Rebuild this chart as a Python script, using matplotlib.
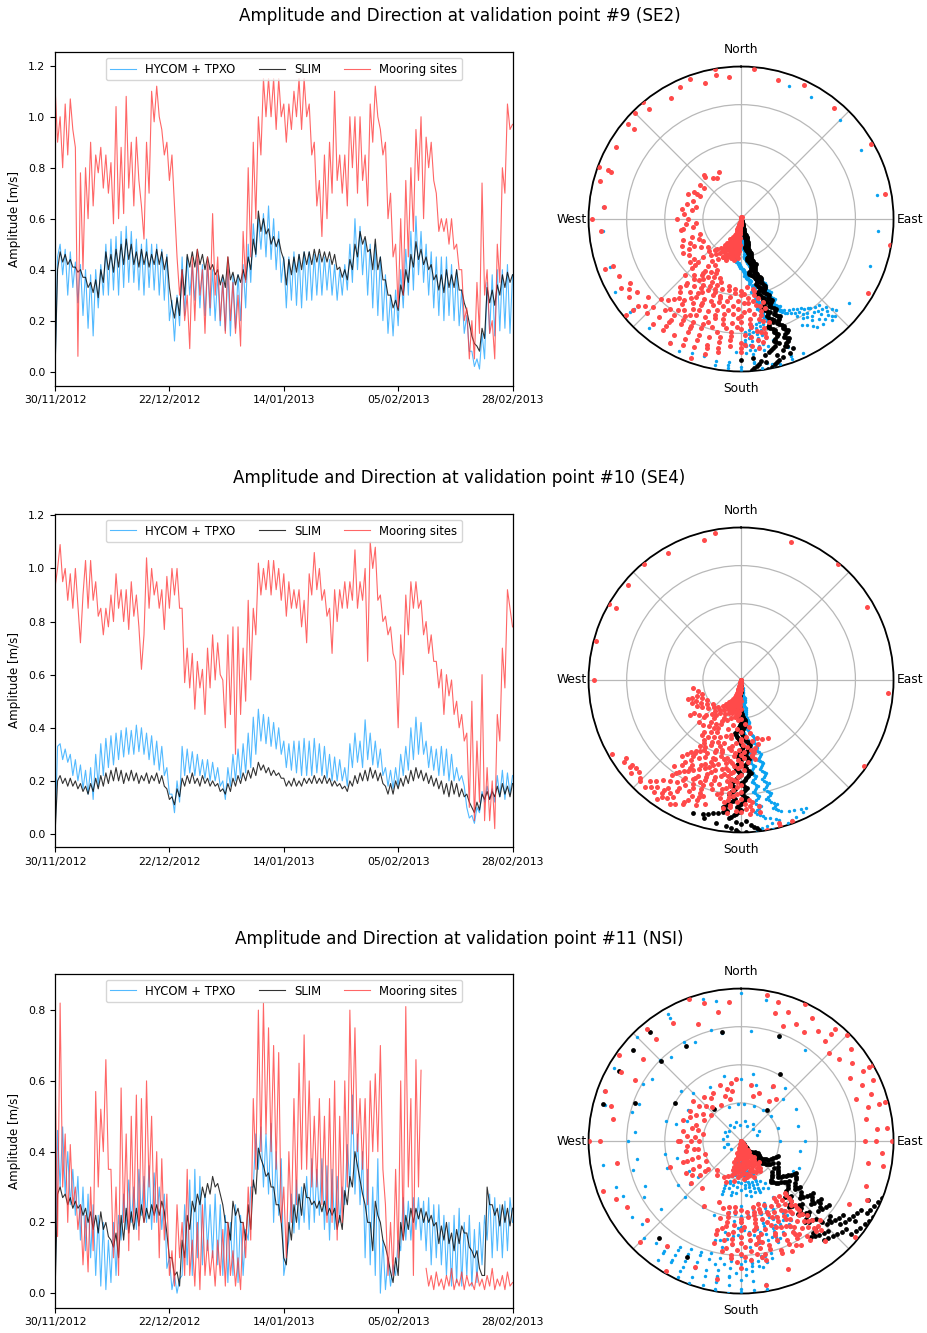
import numpy as np
import matplotlib
matplotlib.use("Agg")
import matplotlib.pyplot as plt
import matplotlib.dates as mdates
from datetime import datetime

# ---------------------------------------------------------------------------
# Record period and labels
# ---------------------------------------------------------------------------
START = datetime(2012, 11, 30)
END = datetime(2013, 2, 28)

SERIES_LABELS = ["HYCOM + TPXO", "SLIM", "Mooring sites"]
TITLES = [
    "Amplitude and Direction at validation point #9 (SE2)",
    "Amplitude and Direction at validation point #10 (SE4)",
    "Amplitude and Direction at validation point #11 (NSI)",
]
COMPASS_LABELS = ["North", "", "East", "", "South", "", "West", ""]
YTICKS = [
    [0.0, 0.2, 0.4, 0.6, 0.8, 1.0, 1.2],
    [0.0, 0.2, 0.4, 0.6, 0.8, 1.0, 1.2],
    [0.0, 0.2, 0.4, 0.6, 0.8],
]
YLIMS = [(-0.055, 1.253), (-0.049, 1.205), (-0.041, 0.902)]

# ---------------------------------------------------------------------------
# Current amplitude [m/s], two samples per day over the record
# ---------------------------------------------------------------------------
amp9_hycom = [
    0.00, 0.45, 0.50, 0.38, 0.48, 0.30, 0.47, 0.33, 0.43, 0.27, 0.42, 0.22, 0.40, 0.17, 0.38, 0.14, 0.40, 0.25, 0.42, 0.30,
    0.50, 0.30, 0.52, 0.32, 0.53, 0.30, 0.55, 0.33, 0.57, 0.35, 0.55, 0.35, 0.52, 0.32, 0.50, 0.30, 0.52, 0.33, 0.50, 0.32,
    0.50, 0.30, 0.48, 0.28, 0.46, 0.20, 0.28, 0.12, 0.30, 0.18, 0.45, 0.22, 0.45, 0.30, 0.42, 0.28, 0.44, 0.25, 0.42, 0.22,
    0.42, 0.22, 0.40, 0.20, 0.38, 0.18, 0.37, 0.16, 0.40, 0.14, 0.38, 0.17, 0.38, 0.20, 0.42, 0.25, 0.50, 0.35, 0.58, 0.45,
    0.60, 0.48, 0.62, 0.45, 0.65, 0.44, 0.60, 0.40, 0.55, 0.35, 0.45, 0.25, 0.45, 0.28, 0.47, 0.26, 0.46, 0.25, 0.47, 0.28,
    0.47, 0.28, 0.46, 0.30, 0.46, 0.30, 0.45, 0.32, 0.44, 0.30, 0.42, 0.28, 0.40, 0.30, 0.42, 0.32, 0.50, 0.35, 0.60, 0.40,
    0.57, 0.38, 0.52, 0.30, 0.50, 0.25, 0.50, 0.22, 0.45, 0.20, 0.38, 0.15, 0.30, 0.14, 0.32, 0.18, 0.40, 0.25, 0.48, 0.30,
    0.55, 0.32, 0.61, 0.38, 0.55, 0.35, 0.50, 0.30, 0.47, 0.25, 0.45, 0.22, 0.45, 0.20, 0.45, 0.22, 0.42, 0.20, 0.40, 0.18,
    0.32, 0.15, 0.22, 0.08, 0.08, 0.02, 0.05, 0.01, 0.15, 0.05, 0.35, 0.15, 0.38, 0.14, 0.40, 0.16, 0.40, 0.17, 0.42, 0.15,
    0.38,
]
amp9_slim = [
    0.00, 0.40, 0.47, 0.43, 0.46, 0.42, 0.44, 0.41, 0.41, 0.39, 0.40, 0.37, 0.37, 0.33, 0.35, 0.31, 0.36, 0.29, 0.40, 0.35,
    0.47, 0.40, 0.46, 0.39, 0.48, 0.41, 0.50, 0.42, 0.52, 0.44, 0.50, 0.42, 0.47, 0.41, 0.48, 0.42, 0.47, 0.41, 0.46, 0.42,
    0.48, 0.42, 0.47, 0.40, 0.45, 0.33, 0.26, 0.21, 0.29, 0.22, 0.40, 0.30, 0.46, 0.41, 0.47, 0.41, 0.48, 0.42, 0.46, 0.40,
    0.45, 0.40, 0.42, 0.38, 0.40, 0.34, 0.38, 0.33, 0.45, 0.36, 0.39, 0.34, 0.38, 0.35, 0.40, 0.36, 0.45, 0.40, 0.52, 0.46,
    0.63, 0.55, 0.60, 0.54, 0.56, 0.50, 0.53, 0.49, 0.52, 0.47, 0.44, 0.34, 0.44, 0.38, 0.45, 0.39, 0.46, 0.40, 0.47, 0.42,
    0.47, 0.42, 0.48, 0.43, 0.48, 0.43, 0.47, 0.43, 0.47, 0.42, 0.46, 0.40, 0.41, 0.37, 0.40, 0.36, 0.44, 0.40, 0.50, 0.45,
    0.55, 0.50, 0.53, 0.47, 0.48, 0.40, 0.52, 0.40, 0.45, 0.36, 0.36, 0.30, 0.30, 0.25, 0.28, 0.24, 0.34, 0.30, 0.40, 0.35,
    0.46, 0.41, 0.51, 0.44, 0.48, 0.42, 0.45, 0.40, 0.42, 0.36, 0.38, 0.32, 0.38, 0.31, 0.40, 0.33, 0.38, 0.33, 0.40, 0.32,
    0.32, 0.27, 0.24, 0.19, 0.14, 0.11, 0.10, 0.08, 0.17, 0.13, 0.33, 0.27, 0.32, 0.26, 0.34, 0.30, 0.38, 0.33, 0.39, 0.35,
    0.38,
]
amp9_mooring = [
    1.12, 0.90, 1.00, 0.80, 1.05, 0.85, 1.07, 0.95, 0.88, 0.06, 0.78, 0.40, 0.80, 0.60, 0.90, 0.65, 0.85, 0.78, 0.88, 0.72,
    0.85, 0.70, 0.82, 0.58, 1.04, 0.60, 0.88, 0.62, 1.08, 0.72, 0.90, 0.65, 0.92, 0.75, 0.65, 0.52, 0.90, 0.70, 1.10, 0.98,
    1.12, 1.00, 0.95, 0.85, 0.90, 0.75, 0.85, 0.65, 0.45, 0.30, 0.40, 0.20, 0.30, 0.09, 0.45, 0.20, 0.48, 0.30, 0.40, 0.15,
    0.45, 0.25, 0.62, 0.30, 0.45, 0.20, 0.35, 0.15, 0.45, 0.20, 0.35, 0.15, 0.30, 0.10, 0.55, 0.35, 0.80, 0.45, 0.90, 0.60,
    1.00, 0.85, 1.15, 1.00, 1.15, 1.00, 1.15, 0.95, 1.15, 1.00, 1.05, 0.90, 1.05, 0.95, 1.10, 1.00, 1.15, 0.95, 1.15, 1.00,
    1.05, 0.85, 0.90, 0.65, 0.75, 0.53, 0.85, 0.60, 0.90, 0.70, 1.10, 0.75, 0.85, 0.70, 0.85, 0.65, 1.00, 0.80, 1.00, 0.70,
    1.00, 0.75, 0.85, 0.65, 1.05, 0.90, 1.12, 1.00, 0.95, 0.85, 0.90, 0.60, 0.70, 0.45, 0.50, 0.25, 0.60, 0.30, 0.75, 0.45,
    0.80, 0.55, 0.95, 0.75, 1.00, 0.60, 0.92, 0.80, 0.90, 0.75, 0.70, 0.55, 0.60, 0.55, 0.60, 0.50, 0.60, 0.48, 0.50, 0.40,
    0.40, 0.20, 0.25, 0.05, 0.20, 0.05, 0.35, 0.15, 0.74, 0.30, 0.40, 0.15, 0.20, 0.05, 0.50, 0.35, 0.80, 0.70, 1.05, 0.95,
    0.97,
]

amp10_hycom = [
    0.00, 0.33, 0.34, 0.28, 0.32, 0.27, 0.30, 0.22, 0.28, 0.20, 0.26, 0.17, 0.24, 0.15, 0.25, 0.13, 0.30, 0.18, 0.34, 0.22,
    0.36, 0.25, 0.37, 0.26, 0.38, 0.28, 0.39, 0.29, 0.40, 0.30, 0.39, 0.30, 0.41, 0.31, 0.40, 0.30, 0.38, 0.28, 0.37, 0.26,
    0.35, 0.24, 0.33, 0.22, 0.25, 0.15, 0.15, 0.08, 0.20, 0.12, 0.33, 0.22, 0.32, 0.23, 0.31, 0.22, 0.30, 0.22, 0.28, 0.21,
    0.28, 0.20, 0.27, 0.20, 0.25, 0.18, 0.20, 0.13, 0.25, 0.18, 0.30, 0.20, 0.32, 0.21, 0.34, 0.23, 0.38, 0.25, 0.44, 0.30,
    0.47, 0.35, 0.45, 0.34, 0.44, 0.33, 0.42, 0.32, 0.40, 0.30, 0.35, 0.25, 0.34, 0.24, 0.35, 0.23, 0.35, 0.22, 0.36, 0.22,
    0.35, 0.22, 0.36, 0.23, 0.34, 0.22, 0.33, 0.21, 0.30, 0.20, 0.29, 0.20, 0.28, 0.20, 0.25, 0.18, 0.34, 0.25, 0.38, 0.27,
    0.35, 0.25, 0.43, 0.28, 0.38, 0.26, 0.35, 0.25, 0.32, 0.22, 0.25, 0.18, 0.24, 0.17, 0.25, 0.18, 0.30, 0.22, 0.33, 0.24,
    0.40, 0.28, 0.44, 0.30, 0.42, 0.30, 0.35, 0.25, 0.33, 0.24, 0.32, 0.22, 0.33, 0.22, 0.32, 0.20, 0.30, 0.20, 0.25, 0.20,
    0.22, 0.18, 0.10, 0.06, 0.07, 0.04, 0.10, 0.08, 0.16, 0.12, 0.18, 0.13, 0.17, 0.12, 0.22, 0.14, 0.24, 0.13, 0.23, 0.15,
    0.22,
]
amp10_slim = [
    0.00, 0.20, 0.22, 0.19, 0.21, 0.18, 0.21, 0.18, 0.20, 0.17, 0.19, 0.16, 0.18, 0.15, 0.19, 0.16, 0.21, 0.17, 0.22, 0.18,
    0.23, 0.19, 0.24, 0.20, 0.25, 0.20, 0.24, 0.19, 0.23, 0.20, 0.24, 0.20, 0.23, 0.19, 0.22, 0.20, 0.23, 0.19, 0.22, 0.20,
    0.23, 0.19, 0.22, 0.18, 0.17, 0.13, 0.14, 0.11, 0.17, 0.14, 0.21, 0.18, 0.22, 0.19, 0.23, 0.19, 0.21, 0.18, 0.22, 0.19,
    0.21, 0.18, 0.20, 0.18, 0.19, 0.16, 0.17, 0.15, 0.19, 0.16, 0.21, 0.18, 0.22, 0.19, 0.23, 0.20, 0.24, 0.21, 0.25, 0.22,
    0.27, 0.24, 0.26, 0.23, 0.25, 0.22, 0.24, 0.22, 0.23, 0.21, 0.21, 0.18, 0.20, 0.18, 0.21, 0.18, 0.20, 0.18, 0.21, 0.19,
    0.21, 0.19, 0.22, 0.19, 0.21, 0.19, 0.22, 0.19, 0.21, 0.18, 0.20, 0.18, 0.19, 0.17, 0.18, 0.16, 0.20, 0.18, 0.22, 0.19,
    0.23, 0.20, 0.24, 0.20, 0.25, 0.21, 0.24, 0.20, 0.23, 0.19, 0.18, 0.15, 0.19, 0.15, 0.20, 0.17, 0.21, 0.18, 0.22, 0.19,
    0.24, 0.20, 0.25, 0.21, 0.24, 0.20, 0.23, 0.19, 0.22, 0.18, 0.21, 0.17, 0.20, 0.15, 0.19, 0.14, 0.20, 0.15, 0.19, 0.14,
    0.17, 0.14, 0.15, 0.12, 0.10, 0.08, 0.12, 0.09, 0.15, 0.13, 0.16, 0.13, 0.16, 0.14, 0.18, 0.14, 0.19, 0.15, 0.18, 0.14,
    0.19,
]
amp10_mooring = [
    0.93, 1.00, 1.09, 0.95, 1.00, 0.88, 0.98, 0.85, 1.00, 0.86, 0.72, 0.90, 1.03, 0.85, 1.03, 0.88, 0.95, 0.82, 0.85, 0.75,
    0.85, 0.78, 0.90, 0.80, 0.98, 0.85, 0.92, 0.80, 0.92, 0.77, 0.95, 0.82, 0.90, 0.78, 0.62, 0.75, 1.04, 0.85, 1.00, 0.90,
    0.95, 0.85, 0.92, 0.77, 0.97, 0.85, 1.00, 0.90, 1.00, 0.85, 0.85, 0.57, 0.70, 0.55, 0.68, 0.47, 0.65, 0.55, 0.62, 0.45,
    0.70, 0.55, 0.75, 0.58, 0.72, 0.60, 0.58, 0.40, 0.75, 0.45, 0.78, 0.30, 0.78, 0.45, 0.70, 0.50, 0.88, 0.58, 0.85, 0.75,
    1.02, 0.90, 1.00, 0.92, 1.03, 0.90, 1.03, 0.92, 1.00, 0.88, 0.98, 0.82, 0.95, 0.85, 0.92, 0.85, 0.92, 0.78, 0.88, 0.72,
    0.98, 0.90, 1.06, 0.92, 1.00, 0.88, 0.92, 0.82, 0.85, 0.68, 0.92, 0.80, 0.92, 0.85, 0.95, 0.85, 0.95, 0.88, 1.07, 0.85,
    0.95, 0.88, 1.00, 0.65, 1.10, 1.00, 1.08, 0.88, 0.90, 0.80, 0.82, 0.75, 0.78, 0.68, 0.65, 0.40, 0.75, 0.60, 0.90, 0.75,
    0.95, 0.85, 0.95, 0.85, 0.88, 0.75, 0.80, 0.68, 0.75, 0.65, 0.65, 0.55, 0.62, 0.45, 0.60, 0.52, 0.58, 0.45, 0.50, 0.40,
    0.45, 0.35, 0.38, 0.10, 0.50, 0.05, 0.35, 0.12, 0.60, 0.05, 0.25, 0.05, 0.20, 0.02, 0.45, 0.35, 0.70, 0.55, 0.92, 0.85,
    0.78,
]

amp11_hycom = [
    0.00, 0.46, 0.30, 0.47, 0.28, 0.40, 0.25, 0.35, 0.22, 0.33, 0.15, 0.30, 0.12, 0.28, 0.10, 0.25, 0.05, 0.22, 0.02, 0.20,
    0.01, 0.15, 0.03, 0.20, 0.05, 0.22, 0.15, 0.28, 0.18, 0.32, 0.20, 0.30, 0.18, 0.35, 0.22, 0.33, 0.20, 0.36, 0.18, 0.34,
    0.20, 0.30, 0.18, 0.28, 0.07, 0.10, 0.01, 0.05, 0.00, 0.04, 0.05, 0.25, 0.08, 0.32, 0.05, 0.35, 0.10, 0.33, 0.08, 0.28,
    0.12, 0.25, 0.10, 0.28, 0.08, 0.25, 0.05, 0.22, 0.03, 0.20, 0.05, 0.25, 0.03, 0.22, 0.05, 0.18, 0.15, 0.30, 0.30, 0.45,
    0.35, 0.47, 0.30, 0.45, 0.28, 0.48, 0.20, 0.40, 0.22, 0.38, 0.05, 0.10, 0.15, 0.28, 0.17, 0.32, 0.18, 0.30, 0.20, 0.33,
    0.18, 0.38, 0.20, 0.35, 0.22, 0.38, 0.18, 0.36, 0.15, 0.35, 0.18, 0.33, 0.20, 0.30, 0.25, 0.42, 0.30, 0.56, 0.28, 0.45,
    0.25, 0.40, 0.10, 0.35, 0.08, 0.30, 0.05, 0.38, 0.00, 0.15, 0.01, 0.10, 0.02, 0.08, 0.05, 0.15, 0.12, 0.27, 0.15, 0.26,
    0.15, 0.27, 0.18, 0.27, 0.15, 0.26, 0.12, 0.27, 0.08, 0.25, 0.10, 0.25, 0.08, 0.22, 0.05, 0.20, 0.02, 0.22, 0.03, 0.24,
    0.02, 0.20, 0.05, 0.22, 0.02, 0.18, 0.03, 0.20, 0.08, 0.22, 0.15, 0.28, 0.10, 0.27, 0.12, 0.25, 0.10, 0.26, 0.12, 0.27,
    0.20,
]
amp11_slim = [
    0.00, 0.28, 0.30, 0.27, 0.28, 0.25, 0.27, 0.24, 0.26, 0.24, 0.25, 0.22, 0.24, 0.20, 0.23, 0.18, 0.22, 0.17, 0.23, 0.18,
    0.20, 0.16, 0.15, 0.13, 0.17, 0.10, 0.22, 0.15, 0.24, 0.17, 0.23, 0.18, 0.24, 0.19, 0.25, 0.20, 0.24, 0.21, 0.25, 0.22,
    0.25, 0.22, 0.26, 0.23, 0.17, 0.10, 0.10, 0.05, 0.06, 0.02, 0.15, 0.10, 0.22, 0.18, 0.26, 0.23, 0.28, 0.25, 0.30, 0.27,
    0.31, 0.28, 0.33, 0.30, 0.31, 0.28, 0.25, 0.20, 0.20, 0.15, 0.26, 0.22, 0.24, 0.20, 0.20, 0.15, 0.25, 0.18, 0.32, 0.28,
    0.41, 0.38, 0.36, 0.33, 0.34, 0.30, 0.30, 0.25, 0.25, 0.20, 0.10, 0.08, 0.20, 0.15, 0.25, 0.20, 0.28, 0.22, 0.31, 0.27,
    0.27, 0.25, 0.26, 0.24, 0.26, 0.23, 0.26, 0.22, 0.24, 0.22, 0.24, 0.18, 0.22, 0.18, 0.29, 0.25, 0.33, 0.30, 0.40, 0.36,
    0.32, 0.28, 0.25, 0.20, 0.20, 0.12, 0.26, 0.22, 0.20, 0.15, 0.13, 0.10, 0.06, 0.03, 0.10, 0.05, 0.20, 0.15, 0.22, 0.18,
    0.24, 0.20, 0.24, 0.21, 0.24, 0.20, 0.23, 0.20, 0.22, 0.19, 0.20, 0.14, 0.19, 0.15, 0.20, 0.14, 0.17, 0.12, 0.18, 0.14,
    0.19, 0.17, 0.17, 0.13, 0.12, 0.10, 0.12, 0.07, 0.05, 0.05, 0.30, 0.25, 0.25, 0.22, 0.24, 0.19, 0.25, 0.20, 0.24, 0.19,
    0.24,
]
amp11_mooring = [
    0.64, 0.16, 0.82, 0.30, 0.45, 0.20, 0.42, 0.25, 0.30, 0.18, 0.25, 0.08, 0.22, 0.06, 0.30, 0.12, 0.57, 0.30, 0.52, 0.40,
    0.66, 0.35, 0.35, 0.10, 0.30, 0.05, 0.58, 0.20, 0.45, 0.12, 0.50, 0.20, 0.56, 0.15, 0.55, 0.20, 0.60, 0.30, 0.50, 0.20,
    0.40, 0.10, 0.38, 0.15, 0.28, 0.05, 0.12, 0.02, 0.25, 0.10, 0.20, 0.05, 0.35, 0.05, 0.15, 0.02, 0.20, 0.01, 0.25, 0.05,
    0.15, 0.05, 0.12, 0.02, 0.15, 0.05, 0.18, 0.02, 0.20, 0.05, 0.12, 0.02, 0.10, 0.01, 0.20, 0.10, 0.30, 0.15, 0.55, 0.35,
    0.80, 0.40, 0.82, 0.45, 0.75, 0.40, 0.70, 0.35, 0.68, 0.20, 0.30, 0.10, 0.40, 0.20, 0.55, 0.25, 0.65, 0.35, 0.73, 0.35,
    0.60, 0.30, 0.50, 0.30, 0.55, 0.25, 0.50, 0.20, 0.55, 0.20, 0.60, 0.15, 0.50, 0.20, 0.60, 0.30, 0.80, 0.45, 0.75, 0.40,
    0.55, 0.35, 0.55, 0.25, 0.60, 0.40, 0.62, 0.40, 0.70, 0.35, 0.25, 0.05, 0.20, 0.05, 0.35, 0.10, 0.60, 0.15, 0.81, 0.30,
    0.55, 0.05, 0.66, 0.30, 0.63, np.nan, 0.07, 0.02, 0.05, 0.01, 0.06, 0.02, 0.04, 0.01, 0.05, 0.02, 0.07, 0.01, 0.04, 0.02,
    0.06, 0.01, 0.05, 0.02, 0.03, 0.01, 0.06, 0.02, 0.04, 0.01, 0.05, 0.02, 0.07, 0.01, 0.04, 0.02, 0.05, 0.01, 0.06, 0.02,
    0.03,
]

# ---------------------------------------------------------------------------
# Current direction [degrees clockwise from North]
# SLIM and HYCOM #10: two samples per day; the others: four samples per day
# ---------------------------------------------------------------------------
dir9_hycom = [
    160, 165, 158, 168, 162, 166, 160, 170, 163, 168, 161, 171, 164, 169, 162, 172, 165, 170, 163, 173,
    166, 171, 164, 174, 167, 172, 165, 175, 168, 174, 166, 176, 170, 176, 168, 178, 171, 178, 169, 180,
    172, 180, 170, 182, 173, 182, 171, 184, 174, 184, 172, 186, 175, 186, 173, 188, 176, 188, 174, 190,
    175, 188, 173, 190, 176, 189, 174, 191, 177, 190, 175, 192, 176, 189, 174, 190, 175, 188, 173, 189,
    174, 187, 172, 188, 175, 188, 173, 189, 176, 190, 174, 191, 175, 188, 173, 189, 174, 186, 172, 187,
    173, 185, 171, 186, 172, 183, 170, 184, 171, 181, 169, 182, 170, 180, 168, 181, 169, 178, 167, 179,
    168, 177, 166, 178, 167, 176, 165, 177, 166, 175, 164, 176, 167, 176, 165, 177, 166, 174, 164, 175,
    165, 173, 163, 174, 164, 172, 162, 173, 163, 171, 161, 172, 164, 172, 162, 173, 163, 170, 161, 171,
    162, 169, 160, 170, 161, 168, 159, 169, 162, 170, 160, 171, 163, 171, 161, 172, 162, 169, 160, 170,
    161, 168, 159, 169, 160, 167, 158, 168, 161, 169, 159, 170, 162, 170, 160, 171, 161, 168, 159, 169,
    160, 168, 158, 169, 159, 167, 157, 168, 160, 168, 158, 170, 161, 169, 159, 170, 160, 168, 158, 169,
    159, 167, 157, 168, 158, 166, 156, 167, 159, 168, 157, 169, 158, 167, 156, 168, 157, 166, 155, 167,
    156, 166, 152, 168, 155, 165, 150, 170, 154, 166, 148, 172, 152, 168, 146, 174, 150, 170, 145, 175,
    148, 172, 143, 176, 150, 170, 142, 178, 147, 174, 140, 176, 145, 172, 138, 178, 148, 175, 142, 170,
    146, 176, 140, 172, 144, 178, 138, 168, 150, 175, 136, 172, 145, 178, 140, 165, 148, 176, 137, 170,
    142, 178, 135, 172, 146, 180, 138, 168, 140, 176, 134, 174, 145, 182, 137, 170, 142, 178, 136, 175,
    138, 160, 128, 110, 95, 80, 265, 275, 60, 45, 250, 230, 30, 20, 210, 195, 200, 220, 185, 175,
    190, 230, 175, 160, 240, 205, 170, 185, 155, 180, 168, 190, 160, 175, 185, 165, 172, 180, 168, 176,
    172,
]
dir9_slim = [
    155, 162, 160, 165, 163, 168, 162, 166, 164, 169, 165, 170, 166, 171, 167, 172, 166, 170, 165, 169,
    164, 168, 163, 167, 162, 166, 163, 168, 164, 169, 165, 170, 166, 171, 167, 172, 166, 170, 165, 169,
    164, 169, 163, 168, 164, 170, 165, 171, 166, 172, 165, 170, 164, 169, 163, 168, 162, 167, 163, 168,
    164, 169, 165, 171, 166, 172, 165, 170, 164, 168, 163, 167, 162, 166, 161, 165, 162, 166, 163, 167,
    162, 166, 161, 165, 160, 164, 161, 165, 162, 167, 163, 168, 162, 166, 161, 165, 160, 164, 161, 165,
    160, 164, 159, 163, 160, 165, 161, 166, 162, 167, 161, 165, 160, 164, 159, 163, 160, 164, 161, 165,
    160, 164, 159, 163, 158, 162, 159, 163, 160, 165, 161, 166, 160, 165, 159, 164, 158, 163, 159, 164,
    158, 163, 157, 162, 158, 163, 159, 164, 160, 165, 159, 164, 158, 163, 159, 165, 160, 166, 161, 167,
    160, 168, 162, 170, 158, 175, 165, 180, 160, 172, 163, 170, 165, 173, 166, 174, 167, 175, 168, 176,
    170,
]
dir9_mooring = [
    20, 10, 30, 15, 5, 25, 190, 185, 192, 188, 195, 186, 190, 197, 184, 193, 188, 195, 191, 186,
    192, 198, 185, 190, 195, 188, 200, 186, 190, 196, 184, 199, 188, 193, 197, 185, 192, 189, 198, 194,
    186, 200, 192, 195, 183, 198, 205, 190, 188, 202, 194, 185, 197, 190, 208, 187, 193, 200, 185, 196,
    190, 205, 183, 198, 195, 210, 188, 200, 185, 203, 192, 212, 190, 198, 206, 184, 196, 210, 188, 202,
    192, 206, 185, 215, 198, 188, 210, 194, 186, 205, 200, 218, 192, 185, 212, 200, 195, 220, 190, 205,
    205, 230, 215, 250, 200, 240, 265, 225, 210, 285, 245, 300, 220, 330, 260, 310, 235, 325, 280, 300,
    215, 290, 250, 335, 210, 270, 310, 240, 225, 300, 265, 320, 205, 285, 245, 275, 215, 320, 260, 295,
    205, 240, 280, 225, 210, 260, 230, 250, 200, 235, 215, 270, 205, 245, 225, 215, 198, 230, 210, 240,
    190, 215, 175, 205, 225, 185, 200, 170, 212, 190, 180, 220, 195, 170, 205, 215, 185, 200, 178, 210,
    180, 218, 170, 200, 205, 188, 225, 175, 195, 210, 168, 200, 215, 182, 195, 172, 208, 190, 220, 178,
    175, 210, 195, 165, 220, 185, 200, 170, 205, 192, 215, 168, 182, 210, 198, 175, 222, 188, 165, 205,
    178, 212, 195, 168, 205, 185, 220, 172, 190, 210, 180, 200, 168, 215, 195, 182, 205, 175, 218, 190,
    170, 208, 195, 180, 215, 168, 200, 185, 220, 175, 205, 190, 165, 212, 182, 198, 208, 175, 222, 188,
    180, 215, 168, 200, 195, 210, 172, 225, 185, 205, 170, 218, 192, 178, 210, 200, 168, 215, 185, 205,
    175, 220, 190, 205, 168, 210, 185, 230, 195, 172, 215, 200, 180, 225, 170, 205, 190, 215, 178, 235,
    185, 220, 175, 240, 200, 180, 228, 195, 172, 215, 190, 238, 205, 180, 225, 195, 210, 245, 190, 230,
    215, 250, 200, 235, 275, 220, 290, 205, 240, 310, 195, 330, 265, 345, 230, 290, 355, 210, 320, 15,
    300, 40, 250, 335, 80, 285, 350, 120, 200, 310, 25, 270, 340, 60, 230, 315, 5, 290, 100, 350,
    320,
]

dir10_hycom = [
    168, 174, 169, 175, 170, 176, 171, 177, 170, 176, 169, 175, 170, 176, 171, 177, 172, 178, 171, 177,
    170, 176, 169, 175, 170, 176, 171, 177, 172, 178, 173, 179, 172, 178, 171, 177, 170, 176, 171, 177,
    172, 178, 173, 179, 172, 178, 171, 177, 170, 176, 169, 175, 170, 176, 171, 177, 172, 178, 173, 179,
    172, 178, 171, 177, 170, 176, 169, 175, 168, 174, 167, 173, 168, 174, 169, 175, 168, 174, 167, 173,
    166, 172, 167, 173, 168, 174, 167, 173, 166, 172, 165, 171, 166, 172, 167, 173, 168, 174, 167, 173,
    166, 172, 165, 171, 166, 172, 167, 173, 168, 174, 167, 173, 166, 172, 165, 171, 166, 172, 167, 173,
    168, 174, 167, 173, 166, 172, 165, 171, 166, 172, 167, 173, 168, 174, 167, 173, 166, 172, 165, 171,
    166, 172, 167, 173, 168, 174, 167, 173, 166, 172, 165, 171, 164, 172, 165, 173, 166, 174, 165, 173,
    164, 172, 163, 171, 160, 170, 158, 168, 155, 166, 153, 165, 155, 168, 158, 170, 160, 172, 162, 174,
    168,
]
dir10_slim = [
    170, 176, 172, 178, 174, 180, 176, 182, 178, 184, 180, 186, 181, 187, 182, 188, 183, 189, 184, 190,
    183, 189, 184, 190, 185, 191, 186, 192, 185, 191, 184, 190, 183, 189, 182, 188, 181, 187, 180, 186,
    179, 185, 178, 184, 177, 183, 176, 182, 175, 181, 174, 180, 175, 181, 176, 182, 177, 183, 178, 184,
    179, 185, 180, 186, 179, 185, 178, 184, 177, 183, 176, 182, 175, 181, 174, 180, 173, 179, 172, 178,
    173, 179, 174, 180, 175, 181, 176, 182, 177, 183, 176, 182, 175, 181, 174, 180, 175, 181, 176, 182,
    177, 183, 178, 184, 177, 183, 176, 182, 175, 181, 174, 180, 175, 181, 176, 182, 177, 183, 178, 184,
    179, 185, 180, 186, 179, 185, 178, 184, 177, 183, 178, 184, 179, 185, 180, 186, 179, 185, 178, 184,
    177, 183, 178, 184, 179, 185, 180, 186, 181, 187, 182, 188, 181, 187, 180, 186, 181, 188, 182, 190,
    183, 192, 184, 194, 185, 196, 178, 200, 182, 195, 180, 190, 176, 186, 175, 184, 174, 182, 173, 181,
    178,
]
dir10_mooring = [
    185, 192, 188, 195, 183, 190, 194, 187, 189, 196, 185, 191, 193, 186, 197, 190, 184, 192, 188, 195,
    190, 186, 196, 183, 192, 188, 198, 185, 191, 194, 187, 197, 183, 190, 195, 188, 192, 186, 199, 190,
    188, 196, 183, 201, 190, 185, 199, 193, 186, 204, 181, 195, 198, 188, 206, 184, 192, 200, 186, 209,
    183, 197, 205, 190, 200, 186, 212, 194, 181, 203, 196, 188, 207, 185, 199, 214, 190, 202, 184, 198,
    196, 210, 185, 220, 200, 188, 215, 230, 190, 205, 225, 180, 212, 240, 195, 220, 185, 235, 205, 250,
    200, 245, 215, 230, 175, 255, 220, 205, 240, 190, 250, 215, 170, 235, 205, 260, 225, 185, 245, 210,
    195, 240, 215, 250, 180, 225, 205, 245, 170, 230, 210, 190, 215, 250, 175, 205, 235, 195, 220, 180,
    190, 225, 165, 210, 200, 180, 235, 170, 160, 205, 185, 215, 155, 195, 178, 210, 165, 200, 188, 215,
    175, 205, 190, 168, 198, 182, 212, 172, 188, 205, 178, 195, 170, 210, 185, 200, 180, 195, 172, 208,
    185, 200, 172, 212, 178, 195, 190, 208, 182, 170, 205, 192, 188, 210, 175, 200, 180, 198, 186, 212,
    190, 205, 180, 212, 185, 200, 195, 215, 182, 208, 190, 198, 178, 212, 188, 203, 192, 216, 185, 200,
    186, 205, 196, 212, 180, 202, 190, 218, 188, 198, 182, 210, 192, 205, 186, 214, 184, 200, 195, 210,
    188, 208, 182, 200, 195, 215, 186, 204, 180, 210, 192, 200, 186, 212, 182, 205, 196, 218, 188, 202,
    184, 206, 190, 214, 180, 200, 195, 210, 186, 215, 182, 205, 190, 210, 184, 200, 192, 216, 186, 204,
    180, 208, 190, 200, 176, 212, 186, 198, 182, 205, 175, 215, 188, 200, 178, 210, 185, 203, 176, 218,
    172, 200, 185, 210, 178, 196, 188, 214, 175, 204, 182, 220, 180, 200, 172, 212, 186, 215, 176, 205,
    210, 222, 218, 230, 205, 228, 215, 232, 212, 236, 220, 208, 226, 214, 232, 218, 225, 210, 235, 222,
    230, 300, 345, 60, 215, 330, 20, 270, 95, 310, 165, 240, 350, 125, 285, 160, 40, 165, 320, 170,
    300,
]

dir11_hycom = [
    165, 150, 175, 160, 170, 155, 180, 162, 172, 158, 185, 165, 168, 150, 178, 160, 175, 155, 182, 165,
    170, 158, 185, 162, 175, 160, 190, 168, 180, 200, 230, 255, 175, 165, 260, 290, 310, 335, 355, 20,
    45, 70, 250, 275, 300, 325, 345, 10, 35, 60, 180, 165, 175, 190, 160, 185, 170, 195, 165, 180,
    160, 185, 170, 195, 165, 180, 155, 190, 170, 185, 160, 195, 175, 165, 190, 170, 180, 160, 195, 175,
    170, 190, 160, 185, 175, 195, 340, 355, 5, 20, 35, 50, 70, 90, 175, 160, 185, 170, 195, 165,
    180, 160, 195, 170, 175, 155, 190, 165, 185, 160, 200, 170, 175, 150, 195, 165, 180, 160, 200, 170,
    170, 155, 190, 160, 185, 165, 200, 175, 160, 150, 190, 170, 200, 230, 260, 290, 320, 350, 15, 45,
    75, 100, 120, 240, 270, 300, 330, 0, 30, 60, 90, 115, 165, 150, 180, 160, 230, 255, 285, 315,
    345, 10, 40, 160, 170, 150, 185, 160, 175, 155, 190, 165, 170, 150, 185, 160, 175, 155, 180, 165,
    210, 235, 260, 285, 310, 200, 225, 250, 170, 150, 185, 160, 165, 148, 180, 155, 170, 150, 185, 158,
    165, 145, 180, 150, 170, 148, 182, 155, 165, 145, 178, 152, 170, 150, 185, 158, 175, 155, 190, 160,
    168, 148, 182, 155, 172, 150, 185, 160, 165, 145, 180, 150, 170, 150, 188, 160, 175, 155, 192, 162,
    180, 160, 195, 165, 170, 150, 185, 158, 230, 245, 260, 275, 175, 160, 190, 165, 290, 305, 320, 335,
    350, 5, 20, 35, 240, 255, 270, 285, 300, 315, 330, 345, 180, 165, 195, 170, 185, 168, 200, 175,
    190, 170, 205, 178, 185, 165, 200, 172, 195, 175, 210, 180, 188, 168, 205, 175, 192, 172, 210, 180,
    185, 170, 205, 178, 200, 215, 230, 245, 190, 175, 210, 182, 205, 220, 235, 250, 195, 178, 215, 185,
    200, 185, 215, 190, 210, 225, 190, 205, 180, 195, 210, 175, 260, 285, 310, 330, 350, 10, 190, 205,
    185, 200, 170, 215, 290, 300, 315, 330, 345, 0, 180, 195, 175, 205, 190, 170, 200, 180, 210, 185,
    190,
]
dir11_slim = [
    150, 140, 145, 135, 148, 138, 150, 140, 146, 136, 148, 138, 150, 142, 152, 144, 148, 140, 145, 135,
    140, 130, 138, 128, 135, 125, 138, 128, 140, 130, 142, 132, 140, 130, 138, 128, 136, 126, 134, 124,
    132, 122, 130, 118, 128, 115, 125, 112, 40, 320, 130, 120, 135, 125, 138, 128, 140, 130, 142, 132,
    144, 134, 142, 132, 140, 130, 138, 128, 136, 126, 134, 124, 132, 122, 130, 120, 133, 123, 135, 125,
    138, 128, 140, 130, 142, 132, 140, 130, 138, 128, 300, 30, 140, 130, 142, 132, 144, 134, 142, 132,
    140, 130, 138, 128, 136, 126, 138, 128, 140, 130, 142, 132, 140, 130, 138, 128, 136, 126, 138, 128,
    140, 130, 142, 132, 140, 130, 138, 128, 136, 126, 330, 350, 20, 290, 315, 135, 140, 130, 142, 132,
    144, 134, 142, 132, 140, 130, 138, 128, 136, 126, 220, 205, 140, 130, 138, 128, 136, 126, 134, 124,
    132, 122, 130, 120, 125, 115, 300, 310, 320, 285, 130, 120, 128, 118, 126, 116, 124, 114, 122, 112,
    120,
]
dir11_mooring = [
    175, 160, 190, 150, 165, 185, 145, 170, 195, 155, 180, 160, 150, 188, 170, 142, 178, 158, 196, 165,
    160, 185, 148, 172, 190, 155, 168, 145, 182, 162, 198, 150, 170, 145, 186, 158, 192, 165, 150, 178,
    155, 180, 145, 195, 165, 150, 188, 170, 142, 175, 160, 198, 168, 152, 185, 145, 175, 160, 192, 155,
    148, 182, 165, 195, 155, 172, 140, 188, 178, 160, 145, 196, 162, 185, 150, 175, 190, 158, 170, 145,
    180, 155, 195, 165, 148, 185, 170, 200, 220, 175, 250, 160, 280, 205, 310, 190, 240, 330, 215, 270,
    300, 230, 345, 260, 200, 285, 320, 250, 275, 15, 230, 305, 260, 340, 290, 35, 240, 315, 270, 350,
    285, 20, 250, 325, 300, 230, 345, 265, 275, 40, 310, 240, 330, 260, 295, 10, 250, 320, 280, 350,
    300, 235, 340, 270, 220, 290, 355, 250, 310, 270, 30, 240, 200, 165, 230, 150, 185, 145, 170, 190,
    160, 140, 180, 150, 195, 165, 140, 175, 155, 185, 145, 170, 190, 150, 165, 140, 210, 170, 250, 160,
    175, 145, 190, 160, 140, 180, 155, 170, 195, 150, 165, 142, 180, 158, 190, 148, 170, 140, 185, 155,
    162, 145, 178, 150, 190, 140, 170, 155, 145, 180, 160, 192, 150, 172, 140, 185, 165, 148, 195, 158,
    175, 142, 188, 155, 140, 168, 152, 180, 195, 145, 170, 160, 150, 185, 138, 175, 160, 190, 148, 170,
    142, 180, 155, 168, 185, 140, 172, 150, 160, 195, 145, 178, 138, 165, 150, 188, 170, 142, 182, 155,
    148, 175, 135, 190, 165, 150, 180, 140, 155, 172, 138, 185, 168, 145, 160, 178, 140, 185, 152, 170,
    160, 138, 175, 150, 145, 182, 155, 168, 70, 300, 20, 230, 90, 45, 340, 120, 60, 260, 30, 180,
    80, 310, 50, 215, 100, 25, 280, 140, 40, 350, 75, 240, 15, 110, 320, 65, 200, 35, 90, 285,
    55, 160, 330, 85, 20, 245, 70, 300, 115, 40, 355, 190, 60, 270, 95, 30, 225, 75, 345, 50,
    100, 15, 290, 65, 170, 40, 320, 85, 250, 60, 10, 130, 75, 305, 45, 210, 90, 340, 25, 270,
    60,
]

SITES = [
    (amp9_hycom, amp9_slim, amp9_mooring, dir9_hycom, dir9_slim, dir9_mooring),
    (amp10_hycom, amp10_slim, amp10_mooring, dir10_hycom, dir10_slim, dir10_mooring),
    (amp11_hycom, amp11_slim, amp11_mooring, dir11_hycom, dir11_slim, dir11_mooring),
]

# ---------------------------------------------------------------------------
# Styling
# ---------------------------------------------------------------------------
LINE_COLORS = ["#1aa3ff", "#000000", "#ff3333"]
LINE_ALPHAS = [0.75, 0.8, 0.75]
DOT_COLORS = ["#0aa2f0", "#000000", "#ff4a4a"]
DOT_SIZES = [6, 12, 13]

plt.rcParams["font.family"] = ["DejaVu Sans"]

fig = plt.figure(figsize=(9.28, 13.33), dpi=100)

t0 = mdates.date2num(START)
t1 = mdates.date2num(END)
date_ticks = np.linspace(t0, t1, 5)

ts_boxes = [
    [0.0593, 0.7107, 0.4930, 0.2501],
    [0.0593, 0.3646, 0.4930, 0.2498],
    [0.0593, 0.0190, 0.4930, 0.2503],
]
polar_boxes = [
    [0.6342, 0.7213, 0.3287, 0.2288],
    [0.6342, 0.3755, 0.3287, 0.2288],
    [0.6342, 0.0296, 0.3287, 0.2288],
]
title_y = [1 - 16 / 1333, 1 - 478 / 1333, 1 - 939 / 1333]


def sample_times(values):
    return np.linspace(t0, t1, len(values))


for row, site in enumerate(SITES):
    amps = site[:3]
    dirs = site[3:]

    fig.text(0.495, title_y[row], TITLES[row], ha="center", va="center",
             fontsize=12.1)

    # amplitude time series
    ax = fig.add_axes(ts_boxes[row])
    for k in range(3):
        vals = np.asarray(amps[k], dtype=float)
        ax.plot(sample_times(vals), vals, color=LINE_COLORS[k],
                alpha=LINE_ALPHAS[k], lw=0.8, label=SERIES_LABELS[k])
    ax.set_xlim(t0, t1)
    ax.set_ylim(*YLIMS[row])
    ax.set_xticks(date_ticks)
    ax.xaxis.set_major_formatter(mdates.DateFormatter("%d/%m/%Y"))
    ax.set_yticks(YTICKS[row])
    ax.set_yticklabels([f"{v:.1f}" for v in YTICKS[row]])
    ax.tick_params(labelsize=7.8, length=3.5, width=0.8)
    ax.set_ylabel("Amplitude [m/s]", fontsize=8.6, labelpad=5)
    for sp in ax.spines.values():
        sp.set_linewidth(0.9)
    ax.legend(loc="upper center", ncol=3, fontsize=8.4, frameon=True,
              borderaxespad=0.5, handlelength=2.2, columnspacing=2.0,
              handletextpad=0.8)

    # direction versus time on a compass rose
    pax = fig.add_axes(polar_boxes[row], projection="polar")
    pax.set_theta_zero_location("N")
    pax.set_theta_direction(-1)
    for k in range(3):
        d = np.asarray(dirs[k], dtype=float)
        r = sample_times(d) - t0
        pax.scatter(np.deg2rad(d), r, s=DOT_SIZES[k], c=DOT_COLORS[k],
                    linewidths=0, zorder=3 + k)
    span = t1 - t0
    pax.set_rlim(0, span)
    pax.set_rgrids([span / 4, span / 2, 3 * span / 4, span], labels=[""] * 4)
    pax.set_thetagrids(np.arange(0, 360, 45), labels=COMPASS_LABELS)
    pax.tick_params(axis="x", labelsize=8.8, pad=1.5)
    pax.grid(color="#b8b8b8", lw=0.9)
    pax.spines["polar"].set_linewidth(1.3)

fig.savefig("out.png", dpi=100)
